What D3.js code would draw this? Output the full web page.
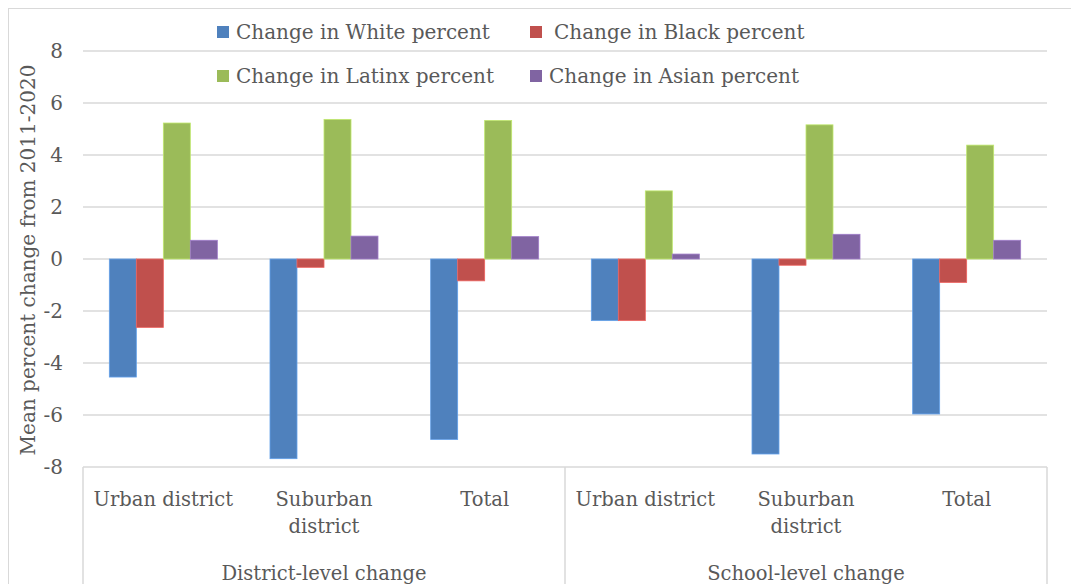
<!DOCTYPE html>
<html>
<head>
<meta charset="utf-8">
<script src="https://cdn.jsdelivr.net/npm/d3@7"></script>
<style>
  body { margin: 0; background: #fff; }
  text { font-family: "DejaVu Serif", serif; fill: #595959; }
</style>
</head>
<body>
<div id="viz"></div>
<script>
const categories = ["Urban district", "Suburban district", "Total", "Urban district", "Suburban district", "Total"];
const groups = ["District-level change", "School-level change"];
const seriesNames = ["Change in White percent", "Change in Black percent", "Change in Latinx percent", "Change in Asian percent"];
const white = [-4.54, -7.68, -6.94, -2.37, -7.5, -5.96];
const black = [-2.63, -0.32, -0.84, -2.37, -0.24, -0.9];
const latinx = [5.23, 5.37, 5.33, 2.62, 5.16, 4.38];
const asian = [0.72, 0.88, 0.86, 0.19, 0.95, 0.72];
const yTicks = [-8, -6, -4, -2, 0, 2, 4, 6, 8];
const colors = ["#4F81BD", "#C0504D", "#9BBB59", "#8064A2"];

document.addEventListener("DOMContentLoaded", () => {
    const width = 1071;
    const height = 584;
    const left = 83, right = 1047, top = 51, bottom = 467;

    const svg = d3.select('#viz').append('svg')
        .attr('width', width)
        .attr('height', height);

    // chart border
    svg.append('rect')
        .attr('x', 8.5).attr('y', 8.5)
        .attr('width', width).attr('height', height)
        .attr('fill', 'none')
        .attr('stroke', '#d9d9d9');

    const y = d3.scaleLinear().domain([-8, 8]).range([bottom, top]);
    const x0 = d3.scaleBand().domain(d3.range(categories.length)).range([left, right]);
    const x1 = d3.scaleBand().domain(d3.range(4)).range([0, x0.bandwidth()]).paddingOuter(0.975);

    // gridlines
    svg.append('g').selectAll('line')
        .data(yTicks)
        .enter().append('line')
        .attr('x1', left).attr('x2', right)
        .attr('y1', d => y(d)).attr('y2', d => y(d))
        .attr('stroke', '#d9d9d9')
        .attr('stroke-width', 1.5);

    // y tick labels
    svg.append('g').selectAll('text')
        .data(yTicks)
        .enter().append('text')
        .attr('x', 63)
        .attr('y', d => y(d))
        .attr('dy', '0.36em')
        .attr('text-anchor', 'end')
        .style('font-size', '20px')
        .text(d => d);

    // y axis title
    svg.append('text')
        .attr('transform', `translate(35, ${(top + bottom) / 2 + 1}) rotate(-90)`)
        .attr('text-anchor', 'middle')
        .style('font-size', '20px')
        .text('Mean percent change from 2011-2020');

    // bars
    const series = [white, black, latinx, asian];
    series.forEach((vals, s) => {
        svg.append('g').selectAll('rect')
            .data(vals)
            .enter().append('rect')
            .attr('x', (d, i) => x0(i) + x1(s))
            .attr('width', x1.bandwidth())
            .attr('y', d => y(Math.max(0, d)))
            .attr('height', d => Math.abs(y(d) - y(0)))
            .attr('fill', colors[s])
            .attr('stroke', d3.color(colors[s]).brighter(0.6))
            .attr('stroke-width', 0.8);
    });

    // category axis box lines
    [left, (left + right) / 2, right].forEach(xx => {
        svg.append('line')
            .attr('x1', xx).attr('x2', xx)
            .attr('y1', bottom).attr('y2', height)
            .attr('stroke', '#d9d9d9')
            .attr('stroke-width', 1.5);
    });

    // category labels
    const catG = svg.append('g');
    categories.forEach((c, i) => {
        const cx = x0(i) + x0.bandwidth() / 2;
        const words = c === "Suburban district" ? ["Suburban", "district"] : [c];
        words.forEach((w, k) => {
            catG.append('text')
                .attr('x', cx)
                .attr('y', 506 + k * 27)
                .attr('text-anchor', 'middle')
                .style('font-size', '19.5px')
                .text(w);
        });
    });

    groups.forEach((g, i) => {
        svg.append('text')
            .attr('x', left + (right - left) / 4 * (2 * i + 1))
            .attr('y', 580)
            .attr('text-anchor', 'middle')
            .style('font-size', '19.5px')
            .text(g);
    });

    // legend
    const legendPos = [[217, 32, 236], [530, 32, 554], [217, 76, 236], [530, 76, 549]];
    seriesNames.forEach((n, i) => {
        const [sx, ly, tx] = legendPos[i];
        svg.append('rect')
            .attr('x', sx).attr('y', ly - 6)
            .attr('width', 12).attr('height', 12)
            .attr('fill', colors[i]);
        svg.append('text')
            .attr('x', tx).attr('y', ly)
            .attr('dy', '0.36em')
            .style('font-size', '20px')
            .text(n);
    });
});
</script>
</body>
</html>
